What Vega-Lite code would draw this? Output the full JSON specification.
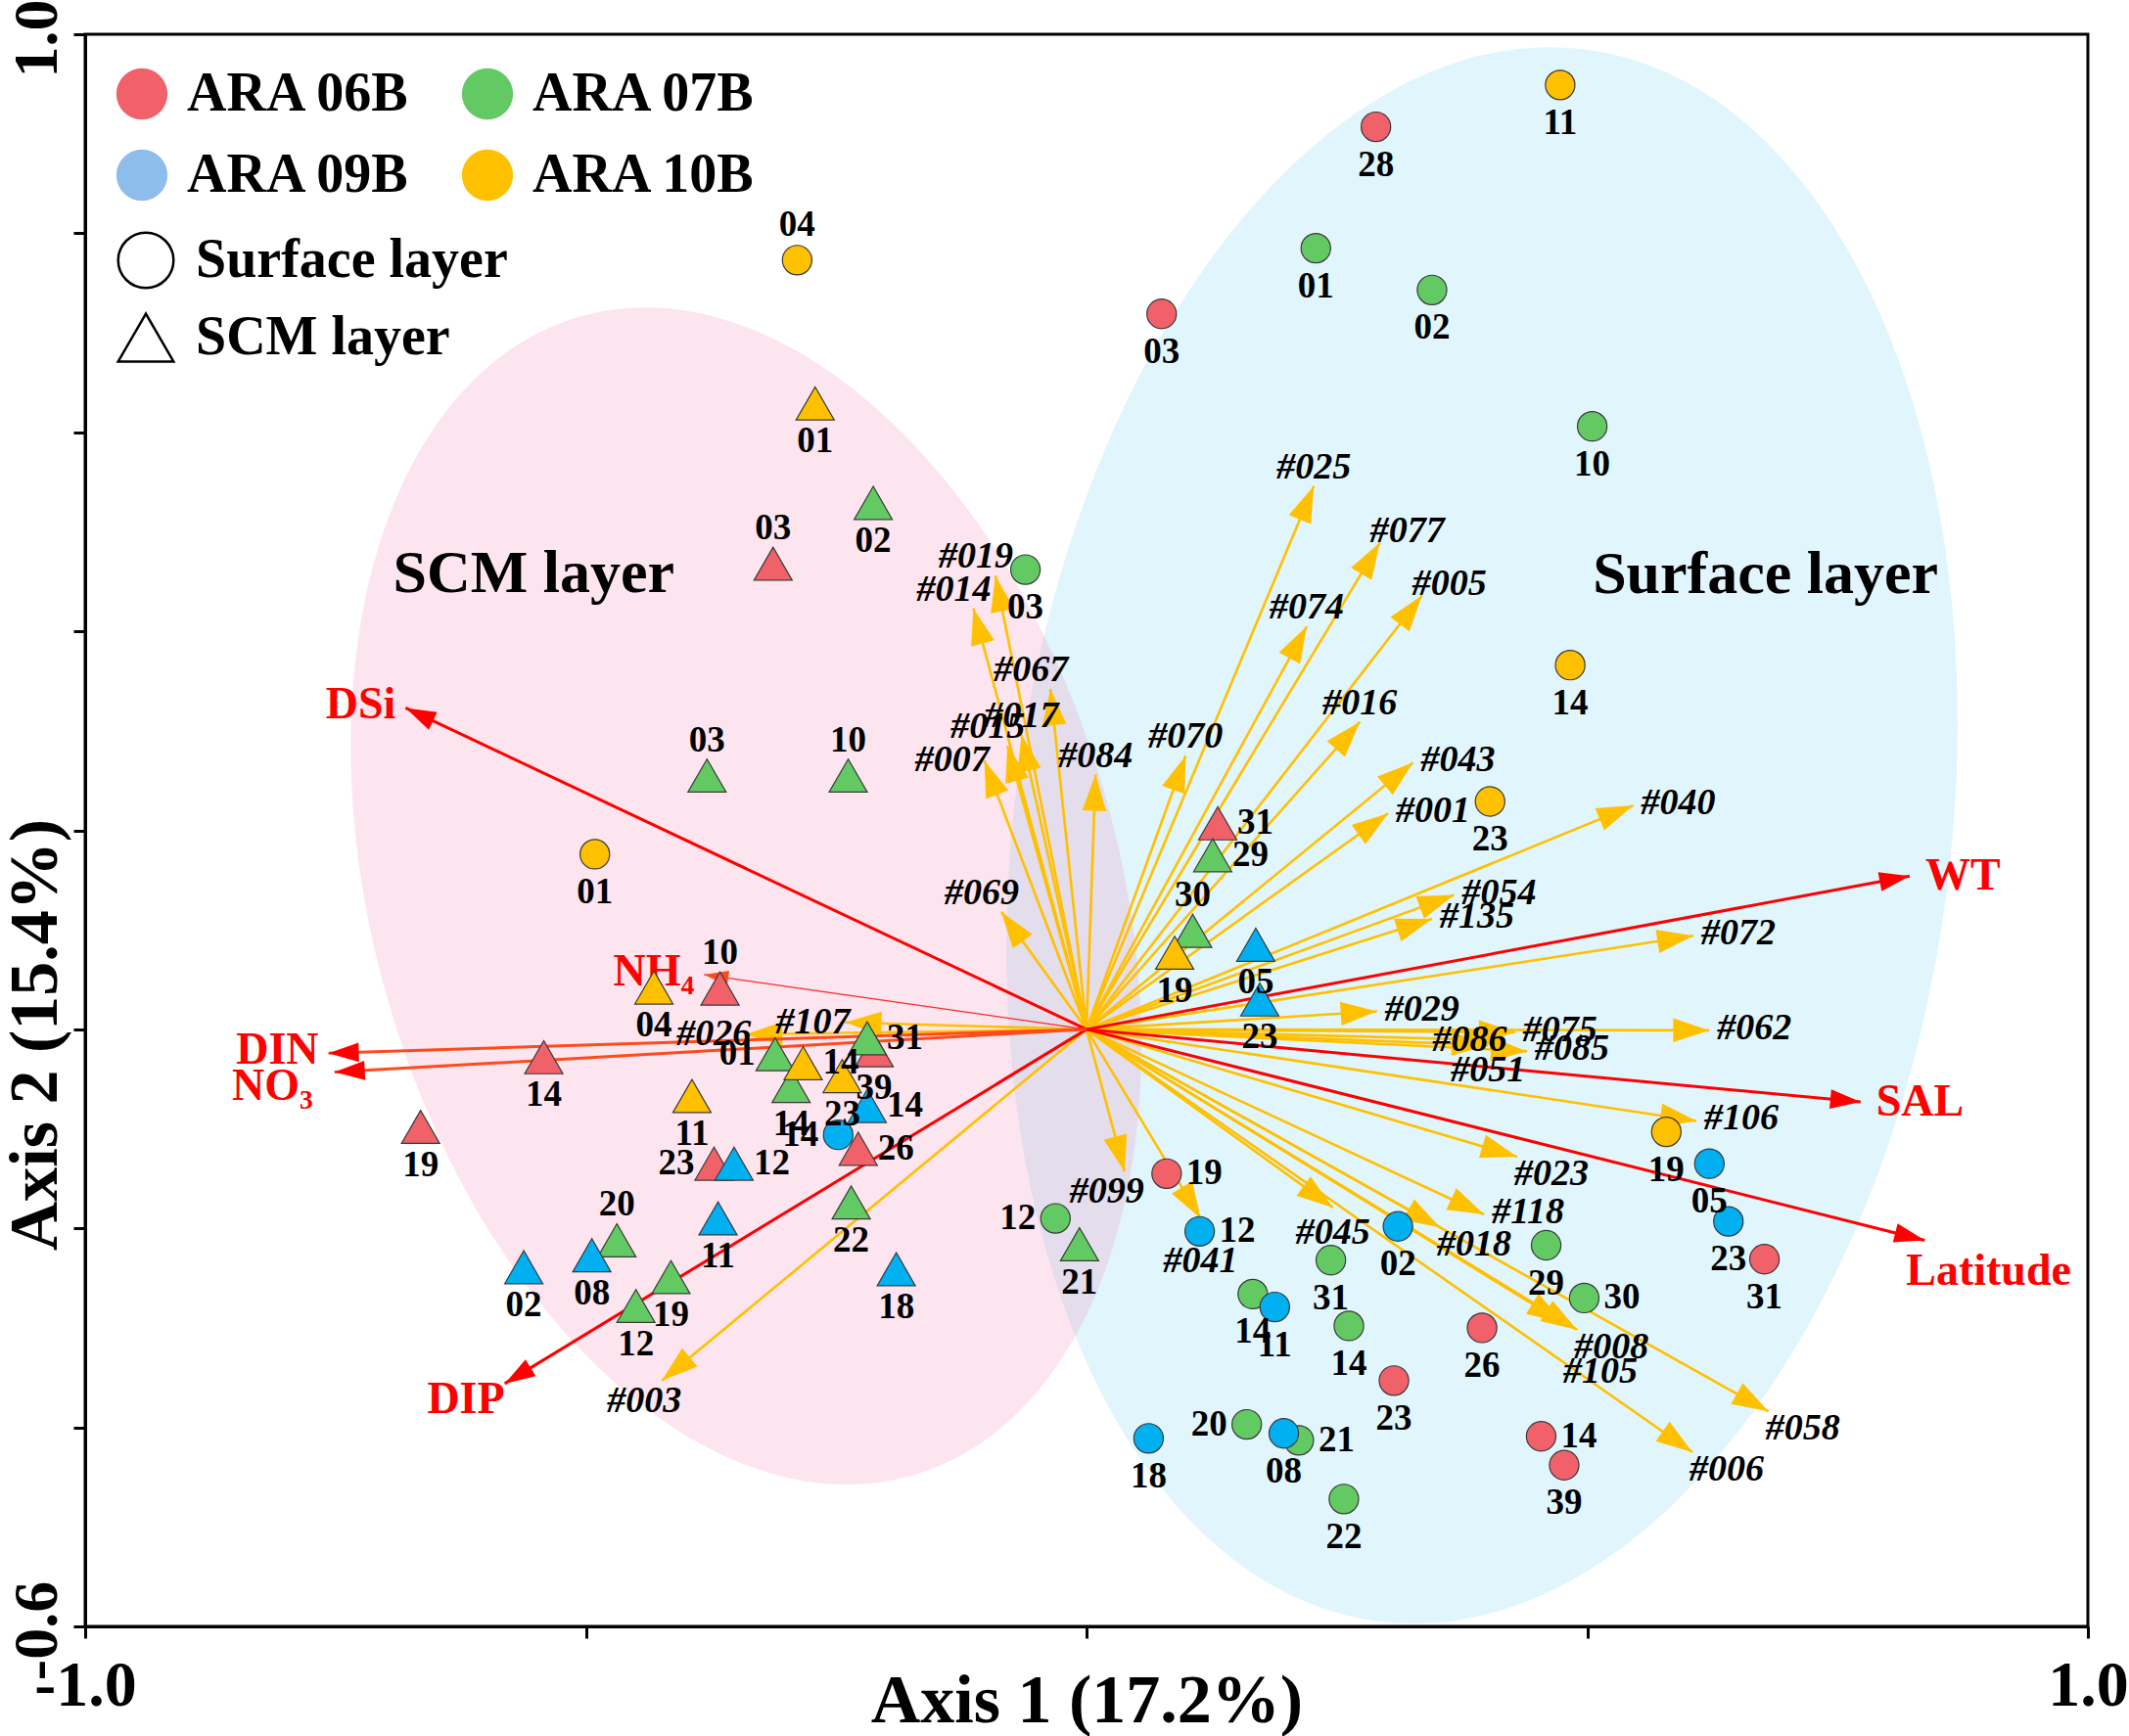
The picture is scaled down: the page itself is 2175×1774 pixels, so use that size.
{
  "$schema": "https://vega.github.io/schema/vega-lite/v6.json",
  "width": 2046,
  "height": 1627,
  "autosize": {"type": "none"},
  "padding": {"left": 87, "top": 35, "right": 42, "bottom": 112},
  "background": "white",
  "config": {
    "view": {"stroke": "black", "strokeWidth": 3},
    "font": "Liberation Serif",
    "text": {"font": "Liberation Serif"}
  },
  "datasets": {
    "groups": [
      {"group": "Surface layer", "x": 0.395, "y": 0.195},
      {"group": "SCM layer", "x": -0.340, "y": 0.134}
    ],
    "annot": [
      {"text": "SCM layer", "x": -0.552, "y": 0.4395},
      {"text": "Surface layer", "x": 0.678, "y": 0.4385}
    ],
    "samples": [
      {"cruise": "ARA 06B", "layer": "Surface layer", "st": "28", "x": 0.289, "y": 0.907, "lp": "b"},
      {"cruise": "ARA 06B", "layer": "Surface layer", "st": "03", "x": 0.075, "y": 0.719, "lp": "b"},
      {"cruise": "ARA 06B", "layer": "Surface layer", "st": "19", "x": 0.080, "y": -0.145, "lp": "r"},
      {"cruise": "ARA 06B", "layer": "Surface layer", "st": "26", "x": 0.395, "y": -0.300, "lp": "b"},
      {"cruise": "ARA 06B", "layer": "Surface layer", "st": "23", "x": 0.307, "y": -0.353, "lp": "b"},
      {"cruise": "ARA 06B", "layer": "Surface layer", "st": "14", "x": 0.454, "y": -0.409, "lp": "r"},
      {"cruise": "ARA 06B", "layer": "Surface layer", "st": "39", "x": 0.477, "y": -0.438, "lp": "b"},
      {"cruise": "ARA 06B", "layer": "Surface layer", "st": "31", "x": 0.677, "y": -0.231, "lp": "b"},
      {"cruise": "ARA 06B", "layer": "SCM layer", "st": "03", "x": -0.313, "y": 0.468, "lp": "a"},
      {"cruise": "ARA 06B", "layer": "SCM layer", "st": "10", "x": -0.366, "y": 0.041, "lp": "a"},
      {"cruise": "ARA 06B", "layer": "SCM layer", "st": "14", "x": -0.542, "y": -0.028, "lp": "b"},
      {"cruise": "ARA 06B", "layer": "SCM layer", "st": "19", "x": -0.665, "y": -0.098, "lp": "b"},
      {"cruise": "ARA 06B", "layer": "SCM layer", "st": "31", "x": 0.131, "y": 0.207, "lp": "r"},
      {"cruise": "ARA 06B", "layer": "SCM layer", "st": "39", "x": -0.212, "y": -0.021, "lp": "b"},
      {"cruise": "ARA 06B", "layer": "SCM layer", "st": "23", "x": -0.372, "y": -0.135, "lp": "l"},
      {"cruise": "ARA 06B", "layer": "SCM layer", "st": "26", "x": -0.228, "y": -0.120, "lp": "r"},
      {"cruise": "ARA 07B", "layer": "Surface layer", "st": "01", "x": 0.229, "y": 0.785, "lp": "b"},
      {"cruise": "ARA 07B", "layer": "Surface layer", "st": "02", "x": 0.345, "y": 0.743, "lp": "b"},
      {"cruise": "ARA 07B", "layer": "Surface layer", "st": "10", "x": 0.505, "y": 0.606, "lp": "b"},
      {"cruise": "ARA 07B", "layer": "Surface layer", "st": "03", "x": -0.061, "y": 0.462, "lp": "b"},
      {"cruise": "ARA 07B", "layer": "Surface layer", "st": "12", "x": -0.031, "y": -0.190, "lp": "l"},
      {"cruise": "ARA 07B", "layer": "Surface layer", "st": "31", "x": 0.244, "y": -0.232, "lp": "b"},
      {"cruise": "ARA 07B", "layer": "Surface layer", "st": "14", "x": 0.166, "y": -0.266, "lp": "b"},
      {"cruise": "ARA 07B", "layer": "Surface layer", "st": "14", "x": 0.262, "y": -0.298, "lp": "b"},
      {"cruise": "ARA 07B", "layer": "Surface layer", "st": "29", "x": 0.459, "y": -0.217, "lp": "b"},
      {"cruise": "ARA 07B", "layer": "Surface layer", "st": "30", "x": 0.497, "y": -0.270, "lp": "r"},
      {"cruise": "ARA 07B", "layer": "Surface layer", "st": "20", "x": 0.160, "y": -0.397, "lp": "l"},
      {"cruise": "ARA 07B", "layer": "Surface layer", "st": "21", "x": 0.212, "y": -0.413, "lp": "r"},
      {"cruise": "ARA 07B", "layer": "Surface layer", "st": "22", "x": 0.257, "y": -0.472, "lp": "b"},
      {"cruise": "ARA 07B", "layer": "SCM layer", "st": "02", "x": -0.213, "y": 0.529, "lp": "b"},
      {"cruise": "ARA 07B", "layer": "SCM layer", "st": "03", "x": -0.379, "y": 0.255, "lp": "a"},
      {"cruise": "ARA 07B", "layer": "SCM layer", "st": "10", "x": -0.238, "y": 0.255, "lp": "a"},
      {"cruise": "ARA 07B", "layer": "SCM layer", "st": "29", "x": 0.126, "y": 0.175, "lp": "r"},
      {"cruise": "ARA 07B", "layer": "SCM layer", "st": "30", "x": 0.106, "y": 0.099, "lp": "a"},
      {"cruise": "ARA 07B", "layer": "SCM layer", "st": "31", "x": -0.219, "y": -0.009, "lp": "r"},
      {"cruise": "ARA 07B", "layer": "SCM layer", "st": "01", "x": -0.311, "y": -0.025, "lp": "l"},
      {"cruise": "ARA 07B", "layer": "SCM layer", "st": "14", "x": -0.295, "y": -0.057, "lp": "b"},
      {"cruise": "ARA 07B", "layer": "SCM layer", "st": "22", "x": -0.235, "y": -0.174, "lp": "b"},
      {"cruise": "ARA 07B", "layer": "SCM layer", "st": "20", "x": -0.469, "y": -0.212, "lp": "a"},
      {"cruise": "ARA 07B", "layer": "SCM layer", "st": "19", "x": -0.415, "y": -0.249, "lp": "b"},
      {"cruise": "ARA 07B", "layer": "SCM layer", "st": "12", "x": -0.450, "y": -0.278, "lp": "b"},
      {"cruise": "ARA 07B", "layer": "SCM layer", "st": "21", "x": -0.007, "y": -0.216, "lp": "b"},
      {"cruise": "ARA 09B", "layer": "Surface layer", "st": "14", "x": -0.248, "y": -0.106, "lp": "l"},
      {"cruise": "ARA 09B", "layer": "Surface layer", "st": "12", "x": 0.113, "y": -0.203, "lp": "r"},
      {"cruise": "ARA 09B", "layer": "Surface layer", "st": "02", "x": 0.311, "y": -0.198, "lp": "b"},
      {"cruise": "ARA 09B", "layer": "Surface layer", "st": "11", "x": 0.188, "y": -0.279, "lp": "b"},
      {"cruise": "ARA 09B", "layer": "Surface layer", "st": "18", "x": 0.062, "y": -0.411, "lp": "b"},
      {"cruise": "ARA 09B", "layer": "Surface layer", "st": "08", "x": 0.197, "y": -0.406, "lp": "b"},
      {"cruise": "ARA 09B", "layer": "Surface layer", "st": "05", "x": 0.622, "y": -0.135, "lp": "b"},
      {"cruise": "ARA 09B", "layer": "Surface layer", "st": "23", "x": 0.641, "y": -0.193, "lp": "b"},
      {"cruise": "ARA 09B", "layer": "SCM layer", "st": "05", "x": 0.169, "y": 0.085, "lp": "b"},
      {"cruise": "ARA 09B", "layer": "SCM layer", "st": "23", "x": 0.173, "y": 0.030, "lp": "b"},
      {"cruise": "ARA 09B", "layer": "SCM layer", "st": "14", "x": -0.219, "y": -0.077, "lp": "r"},
      {"cruise": "ARA 09B", "layer": "SCM layer", "st": "12", "x": -0.352, "y": -0.135, "lp": "r"},
      {"cruise": "ARA 09B", "layer": "SCM layer", "st": "11", "x": -0.368, "y": -0.190, "lp": "b"},
      {"cruise": "ARA 09B", "layer": "SCM layer", "st": "18", "x": -0.190, "y": -0.241, "lp": "b"},
      {"cruise": "ARA 09B", "layer": "SCM layer", "st": "02", "x": -0.562, "y": -0.239, "lp": "b"},
      {"cruise": "ARA 09B", "layer": "SCM layer", "st": "08", "x": -0.494, "y": -0.227, "lp": "b"},
      {"cruise": "ARA 10B", "layer": "Surface layer", "st": "11", "x": 0.473, "y": 0.949, "lp": "b"},
      {"cruise": "ARA 10B", "layer": "Surface layer", "st": "04", "x": -0.289, "y": 0.773, "lp": "a"},
      {"cruise": "ARA 10B", "layer": "Surface layer", "st": "14", "x": 0.483, "y": 0.366, "lp": "b"},
      {"cruise": "ARA 10B", "layer": "Surface layer", "st": "23", "x": 0.403, "y": 0.229, "lp": "b"},
      {"cruise": "ARA 10B", "layer": "Surface layer", "st": "01", "x": -0.491, "y": 0.176, "lp": "b"},
      {"cruise": "ARA 10B", "layer": "Surface layer", "st": "19", "x": 0.579, "y": -0.103, "lp": "b"},
      {"cruise": "ARA 10B", "layer": "SCM layer", "st": "01", "x": -0.271, "y": 0.629, "lp": "b"},
      {"cruise": "ARA 10B", "layer": "SCM layer", "st": "19", "x": 0.088, "y": 0.077, "lp": "b"},
      {"cruise": "ARA 10B", "layer": "SCM layer", "st": "04", "x": -0.432, "y": 0.042, "lp": "b"},
      {"cruise": "ARA 10B", "layer": "SCM layer", "st": "14", "x": -0.283, "y": -0.034, "lp": "r"},
      {"cruise": "ARA 10B", "layer": "SCM layer", "st": "23", "x": -0.244, "y": -0.047, "lp": "b"},
      {"cruise": "ARA 10B", "layer": "SCM layer", "st": "11", "x": -0.394, "y": -0.067, "lp": "b"}
    ],
    "asvs": [
      {"name": "#025", "x": 0.227, "y": 0.546, "lp": "a"},
      {"name": "#077", "x": 0.293, "y": 0.489, "lp": "ar"},
      {"name": "#005", "x": 0.335, "y": 0.436, "lp": "ar"},
      {"name": "#074", "x": 0.220, "y": 0.405, "lp": "a"},
      {"name": "#016", "x": 0.273, "y": 0.309, "lp": "a"},
      {"name": "#043", "x": 0.326, "y": 0.268, "lp": "r"},
      {"name": "#001", "x": 0.301, "y": 0.217, "lp": "r"},
      {"name": "#040", "x": 0.546, "y": 0.225, "lp": "r"},
      {"name": "#054", "x": 0.367, "y": 0.135, "lp": "r"},
      {"name": "#135", "x": 0.345, "y": 0.111, "lp": "r"},
      {"name": "#072", "x": 0.606, "y": 0.094, "lp": "r"},
      {"name": "#029", "x": 0.290, "y": 0.018, "lp": "r"},
      {"name": "#086", "x": 0.415, "y": -0.011, "lp": "l"},
      {"name": "#075", "x": 0.428, "y": -0.003, "lp": "r"},
      {"name": "#062", "x": 0.622, "y": -0.001, "lp": "r"},
      {"name": "#085", "x": 0.440, "y": -0.022, "lp": "r"},
      {"name": "#051", "x": 0.401, "y": -0.016, "lp": "b"},
      {"name": "#106", "x": 0.609, "y": -0.092, "lp": "r"},
      {"name": "#023", "x": 0.430, "y": -0.128, "lp": "br"},
      {"name": "#118", "x": 0.397, "y": -0.186, "lp": "r"},
      {"name": "#018", "x": 0.353, "y": -0.199, "lp": "br"},
      {"name": "#008", "x": 0.490, "y": -0.302, "lp": "br"},
      {"name": "#105", "x": 0.476, "y": -0.295, "lp": "bbr"},
      {"name": "#058", "x": 0.681, "y": -0.384, "lp": "br"},
      {"name": "#006", "x": 0.605, "y": -0.425, "lp": "br"},
      {"name": "#045", "x": 0.246, "y": -0.179, "lp": "b"},
      {"name": "#041", "x": 0.114, "y": -0.190, "lp": "bb"},
      {"name": "#099", "x": 0.038, "y": -0.143, "lp": "bl"},
      {"name": "#003", "x": -0.424, "y": -0.353, "lp": "bl"},
      {"name": "#026", "x": -0.340, "y": -0.005, "lp": "l"},
      {"name": "#107", "x": -0.241, "y": 0.007, "lp": "l"},
      {"name": "#069", "x": -0.085, "y": 0.118, "lp": "al"},
      {"name": "#007", "x": -0.102, "y": 0.270, "lp": "l"},
      {"name": "#015", "x": -0.079, "y": 0.285, "lp": "al"},
      {"name": "#017", "x": -0.065, "y": 0.296, "lp": "a"},
      {"name": "#084", "x": 0.009, "y": 0.256, "lp": "a"},
      {"name": "#067", "x": -0.036, "y": 0.342, "lp": "al"},
      {"name": "#014", "x": -0.113, "y": 0.423, "lp": "al"},
      {"name": "#019", "x": -0.091, "y": 0.456, "lp": "al"},
      {"name": "#070", "x": 0.099, "y": 0.275, "lp": "a"}
    ],
    "env": [
      {"name": "DSi", "x": -0.680, "y": 0.323, "lp": "l"},
      {"name": "NH₄", "x": -0.382, "y": 0.055, "lp": "l"},
      {"name": "DIN", "x": -0.757, "y": -0.024, "lp": "l"},
      {"name": "NO₃", "x": -0.751, "y": -0.043, "lp": "lb"},
      {"name": "DIP", "x": -0.581, "y": -0.356, "lp": "bl"},
      {"name": "WT", "x": 0.822, "y": 0.154, "lp": "r"},
      {"name": "SAL", "x": 0.773, "y": -0.073, "lp": "r"},
      {"name": "Latitude", "x": 0.837, "y": -0.212, "lp": "br"}
    ]
  },
  "encoding": {
    "x": {
      "field": "x", "type": "quantitative",
      "scale": {"domain": [-1, 1], "nice": false, "zero": false},
      "title": "Axis 1 (17.2%)",
      "axis": {
        "values": [-1, -0.5, 0, 0.5, 1],
        "labelExpr": "datum.value <= -0.99 ? '-1.0' : (datum.value >= 0.99 ? '1.0' : '')",
        "grid": false, "domainColor": "black", "domainWidth": 3,
        "tickColor": "black", "tickWidth": 3, "tickSize": 12,
        "labelFont": "Liberation Serif", "labelFontSize": 66, "labelFontWeight": "bold", "labelColor": "black",
        "labelPadding": 16, "labelFlush": false, "labelOverlap": false, "labelBaseline": "top", "labelAlign": "center",
        "titleFont": "Liberation Serif", "titleFontSize": 70, "titleFontWeight": "bold", "titleColor": "black",
        "titleX": 1023, "titleY": 97, "titleAlign": "center", "titleBaseline": "alphabetic"
      }
    },
    "y": {
      "field": "y", "type": "quantitative",
      "scale": {"domain": [-0.6, 1.0], "nice": false, "zero": false},
      "title": "Axis 2 (15.4%)",
      "axis": {
        "values": [-0.6, -0.4, -0.2, 0, 0.2, 0.4, 0.6, 0.8, 1.0],
        "labelExpr": "datum.value >= 0.99 ? '1.0' : (datum.value <= -0.59 ? '-0.6' : '')",
        "grid": false, "domainColor": "black", "domainWidth": 3,
        "tickColor": "black", "tickWidth": 3, "tickSize": 12,
        "labelFont": "Liberation Serif", "labelFontSize": 64, "labelFontWeight": "bold", "labelColor": "black",
        "labelAngle": -90, "labelAlign": "center", "labelBaseline": "bottom", "labelPadding": 5, "labelOffset": 4,
        "labelFlush": false, "labelOverlap": false,
        "titleFont": "Liberation Serif", "titleFontSize": 70, "titleFontWeight": "bold", "titleColor": "black",
        "titleAngle": -90, "titleX": -30, "titleY": 1022, "titleAlign": "center", "titleBaseline": "alphabetic"
      }
    }
  },
  "layer": [
    {
      "data": {"name": "groups"},
      "transform": [{"filter": "datum.group == 'Surface layer'"}],
      "mark": {"type": "point", "shape": "M0.5901,0C0.5901,0.5523 0.3259,1 0,1C-0.3259,1 -0.5901,0.5523 -0.5901,0C-0.5901,-0.5523 -0.3259,-1 0,-1C0.3259,-1 0.5901,-0.5523 0.5901,0Z", "size": 2624400, "angle": 7.6, "filled": true, "fill": "#E1F5FC", "opacity": 1, "strokeWidth": 0}
    },
    {
      "data": {"name": "groups"},
      "transform": [{"filter": "datum.group == 'SCM layer'"}],
      "mark": {"type": "point", "shape": "M0.6185,0C0.6185,0.5523 0.3416,1 0,1C-0.3416,1 -0.6185,0.5523 -0.6185,0C-0.6185,-0.5523 -0.3416,-1 0,-1C0.3416,-1 0.6185,-0.5523 0.6185,0Z", "size": 1517824, "angle": -16, "filled": true, "fill": "#F184B1", "opacity": 0.21, "strokeWidth": 0}
    },
    {
      "data": {"values": [{"line": "axis 2 zero"}]},
      "mark": {"type": "rule", "color": "black", "strokeWidth": 2, "strokeDash": [2, 3]},
      "encoding": {"x": {"datum": 0, "type": "quantitative"}, "y": {"datum": -0.6, "type": "quantitative"}, "y2": {"datum": 1}}
    },
    {
      "data": {"values": [{"line": "axis 1 zero"}]},
      "mark": {"type": "rule", "color": "black", "strokeWidth": 2, "strokeDash": [2, 3]},
      "encoding": {"y": {"datum": 0, "type": "quantitative"}, "x": {"datum": -1, "type": "quantitative"}, "x2": {"datum": 1}}
    },
    {
      "data": {"name": "asvs"},
      "mark": {"type": "rule", "color": "#FFC000", "strokeWidth": 2.6},
      "encoding": {"x2": {"datum": 0}, "y2": {"datum": 0}}
    },
    {
      "data": {"name": "asvs"},
      "mark": {"type": "point", "shape": "M0,0L-0.33,1L0.33,1Z", "size": 5476, "filled": true, "color": "#FFC000", "opacity": 1, "strokeWidth": 0, "angle": {"expr": "atan2(datum.x, datum.y) * 180 / PI"}}
    },
    {
      "data": {"name": "env"},
      "transform": [{"filter": {"field": "name", "oneOf": ["DSi", "DIP", "WT", "SAL", "Latitude"]}}],
      "mark": {"type": "rule", "color": "#FF0000", "strokeWidth": 3},
      "encoding": {"x2": {"datum": 0}, "y2": {"datum": 0}}
    },
    {
      "data": {"name": "env"},
      "transform": [{"filter": {"field": "name", "oneOf": ["DIN", "NO₃"]}}],
      "mark": {"type": "rule", "color": "#FF4A1A", "strokeWidth": 3},
      "encoding": {"x2": {"datum": 0}, "y2": {"datum": 0}}
    },
    {
      "data": {"name": "env"},
      "transform": [{"filter": "datum.name == 'NH₄'"}],
      "mark": {"type": "rule", "color": "#FF2A2A", "strokeWidth": 1.3},
      "encoding": {"x2": {"datum": 0}, "y2": {"datum": 0}}
    },
    {
      "data": {"name": "env"},
      "transform": [{"filter": "datum.name != 'NH₄'"}],
      "mark": {"type": "point", "shape": "M0,0L-0.32,1L0.32,1Z", "size": 3844, "filled": true, "color": "#FF0000", "opacity": 1, "strokeWidth": 0, "angle": {"expr": "atan2(datum.x, datum.y) * 180 / PI"}}
    },
    {
      "data": {"name": "env"},
      "transform": [{"filter": "datum.name == 'NH₄'"}],
      "mark": {"type": "point", "shape": "M0,0L-0.3,1L0.3,1Z", "size": 2500, "filled": true, "color": "#FF4A1A", "opacity": 1, "strokeWidth": 0, "angle": {"expr": "atan2(datum.x, datum.y) * 180 / PI"}}
    },
    {
      "data": {"name": "asvs"}, "transform": [{"filter": "datum.lp == 'a'"}],
      "mark": {"type": "text", "font": "Liberation Serif", "fontSize": 38, "fontStyle": "italic", "fontWeight": "bold", "color": "black", "align": "center", "baseline": "alphabetic", "dy": -8},
      "encoding": {"text": {"field": "name"}}
    },
    {
      "data": {"name": "asvs"}, "transform": [{"filter": "datum.lp == 'ar'"}],
      "mark": {"type": "text", "font": "Liberation Serif", "fontSize": 38, "fontStyle": "italic", "fontWeight": "bold", "color": "black", "align": "left", "baseline": "alphabetic", "dx": -10, "dy": -1},
      "encoding": {"text": {"field": "name"}}
    },
    {
      "data": {"name": "asvs"}, "transform": [{"filter": "datum.lp == 'al'"}],
      "mark": {"type": "text", "font": "Liberation Serif", "fontSize": 38, "fontStyle": "italic", "fontWeight": "bold", "color": "black", "align": "right", "baseline": "alphabetic", "dx": 18, "dy": -8},
      "encoding": {"text": {"field": "name"}}
    },
    {
      "data": {"name": "asvs"}, "transform": [{"filter": "datum.lp == 'r'"}],
      "mark": {"type": "text", "font": "Liberation Serif", "fontSize": 38, "fontStyle": "italic", "fontWeight": "bold", "color": "black", "align": "left", "baseline": "middle", "dx": 8, "dy": -2},
      "encoding": {"text": {"field": "name"}}
    },
    {
      "data": {"name": "asvs"}, "transform": [{"filter": "datum.lp == 'l'"}],
      "mark": {"type": "text", "font": "Liberation Serif", "fontSize": 38, "fontStyle": "italic", "fontWeight": "bold", "color": "black", "align": "right", "baseline": "middle", "dx": 5, "dy": 0},
      "encoding": {"text": {"field": "name"}}
    },
    {
      "data": {"name": "asvs"}, "transform": [{"filter": "datum.lp == 'b'"}],
      "mark": {"type": "text", "font": "Liberation Serif", "fontSize": 38, "fontStyle": "italic", "fontWeight": "bold", "color": "black", "align": "center", "baseline": "top", "dy": 7},
      "encoding": {"text": {"field": "name"}}
    },
    {
      "data": {"name": "asvs"}, "transform": [{"filter": "datum.lp == 'bb'"}],
      "mark": {"type": "text", "font": "Liberation Serif", "fontSize": 38, "fontStyle": "italic", "fontWeight": "bold", "color": "black", "align": "center", "baseline": "top", "dy": 25},
      "encoding": {"text": {"field": "name"}}
    },
    {
      "data": {"name": "asvs"}, "transform": [{"filter": "datum.lp == 'bl'"}],
      "mark": {"type": "text", "font": "Liberation Serif", "fontSize": 38, "fontStyle": "italic", "fontWeight": "bold", "color": "black", "align": "right", "baseline": "top", "dx": 20, "dy": 2},
      "encoding": {"text": {"field": "name"}}
    },
    {
      "data": {"name": "asvs"}, "transform": [{"filter": "datum.lp == 'br'"}],
      "mark": {"type": "text", "font": "Liberation Serif", "fontSize": 38, "fontStyle": "italic", "fontWeight": "bold", "color": "black", "align": "left", "baseline": "top", "dx": -3, "dy": -1},
      "encoding": {"text": {"field": "name"}}
    },
    {
      "data": {"name": "asvs"}, "transform": [{"filter": "datum.lp == 'bbr'"}],
      "mark": {"type": "text", "font": "Liberation Serif", "fontSize": 38, "fontStyle": "italic", "fontWeight": "bold", "color": "black", "align": "left", "baseline": "top", "dx": 0, "dy": 31},
      "encoding": {"text": {"field": "name"}}
    },
    {
      "data": {"name": "env"}, "transform": [{"filter": "datum.lp == 'l'"}],
      "mark": {"type": "text", "font": "Liberation Serif", "fontSize": 46, "fontWeight": "bold", "color": "#FF0000", "align": "right", "baseline": "middle", "dx": -10, "dy": -3},
      "encoding": {"text": {"field": "name"}}
    },
    {
      "data": {"name": "env"}, "transform": [{"filter": "datum.lp == 'lb'"}],
      "mark": {"type": "text", "font": "Liberation Serif", "fontSize": 46, "fontWeight": "bold", "color": "#FF0000", "align": "right", "baseline": "middle", "dx": -22, "dy": 14},
      "encoding": {"text": {"field": "name"}}
    },
    {
      "data": {"name": "env"}, "transform": [{"filter": "datum.lp == 'r'"}],
      "mark": {"type": "text", "font": "Liberation Serif", "fontSize": 46, "fontWeight": "bold", "color": "#FF0000", "align": "left", "baseline": "middle", "dx": 16, "dy": 0},
      "encoding": {"text": {"field": "name"}}
    },
    {
      "data": {"name": "env"}, "transform": [{"filter": "datum.lp == 'bl'"}],
      "mark": {"type": "text", "font": "Liberation Serif", "fontSize": 46, "fontWeight": "bold", "color": "#FF0000", "align": "right", "baseline": "top", "dx": 0, "dy": -6},
      "encoding": {"text": {"field": "name"}}
    },
    {
      "data": {"name": "env"}, "transform": [{"filter": "datum.lp == 'br'"}],
      "mark": {"type": "text", "font": "Liberation Serif", "fontSize": 46, "fontWeight": "bold", "color": "#FF0000", "align": "left", "baseline": "top", "dx": -19, "dy": 10},
      "encoding": {"text": {"field": "name"}}
    },
    {
      "data": {"name": "samples"},
      "transform": [{"filter": "datum.layer == 'Surface layer'"}],
      "mark": {"type": "point", "shape": "circle", "size": 908, "filled": true, "opacity": 1, "stroke": "#3a3a3a", "strokeWidth": 1.2},
      "encoding": {
        "color": {"field": "cruise", "type": "nominal", "scale": {"domain": ["ARA 06B", "ARA 07B", "ARA 09B", "ARA 10B"], "range": ["#F0616A", "#63C963", "#00B0F0", "#FFC000"]}, "legend": null}
      }
    },
    {
      "data": {"name": "samples"},
      "transform": [{"filter": "datum.layer == 'SCM layer'"}],
      "mark": {"type": "point", "shape": "triangle-up", "size": 1521, "filled": true, "opacity": 1, "stroke": "#3a3a3a", "strokeWidth": 1.2},
      "encoding": {
        "color": {"field": "cruise", "type": "nominal", "scale": {"domain": ["ARA 06B", "ARA 07B", "ARA 09B", "ARA 10B"], "range": ["#F0616A", "#63C963", "#00B0F0", "#FFC000"]}, "legend": null}
      }
    },
    {
      "data": {"name": "samples"}, "transform": [{"filter": "datum.lp == 'b'"}],
      "mark": {"type": "text", "font": "Liberation Serif", "fontSize": 37, "fontWeight": "bold", "color": "black", "align": "center", "baseline": "middle", "dy": 39},
      "encoding": {"text": {"field": "st"}}
    },
    {
      "data": {"name": "samples"}, "transform": [{"filter": "datum.lp == 'a'"}],
      "mark": {"type": "text", "font": "Liberation Serif", "fontSize": 37, "fontWeight": "bold", "color": "black", "align": "center", "baseline": "middle", "dy": -36},
      "encoding": {"text": {"field": "st"}}
    },
    {
      "data": {"name": "samples"}, "transform": [{"filter": "datum.lp == 'r'"}],
      "mark": {"type": "text", "font": "Liberation Serif", "fontSize": 37, "fontWeight": "bold", "color": "black", "align": "left", "baseline": "middle", "dx": 20},
      "encoding": {"text": {"field": "st"}}
    },
    {
      "data": {"name": "samples"}, "transform": [{"filter": "datum.lp == 'l'"}],
      "mark": {"type": "text", "font": "Liberation Serif", "fontSize": 37, "fontWeight": "bold", "color": "black", "align": "right", "baseline": "middle", "dx": -20},
      "encoding": {"text": {"field": "st"}}
    },
    {
      "data": {"name": "annot"},
      "mark": {"type": "text", "font": "Liberation Serif", "fontSize": 62, "fontWeight": "bold", "color": "black", "align": "center", "baseline": "alphabetic"},
      "encoding": {"text": {"field": "text"}}
    },
    {
      "data": {"name": "samples"},
      "transform": [{"filter": "false"}],
      "mark": {"type": "point", "shape": "circle", "filled": true, "opacity": 1},
      "encoding": {
        "color": {
          "field": "cruise", "type": "nominal",
          "scale": {"domain": ["ARA 06B", "ARA 07B", "ARA 09B", "ARA 10B"], "range": ["#F0616A", "#63C963", "#8EBDEB", "#FFC000"]},
          "legend": {
            "orient": "none", "legendX": 30, "legendY": 33, "columns": 2, "direction": "horizontal",
            "title": null, "symbolType": "circle", "symbolSize": 2734, "symbolStrokeWidth": 0, "symbolOpacity": 1,
            "labelFont": "Liberation Serif", "labelFontSize": 56, "labelFontWeight": "bold", "labelColor": "black",
            "labelOffset": 18, "columnPadding": 50, "rowPadding": 27, "labelLimit": 0, "padding": 0
          }
        }
      }
    },
    {
      "data": {"name": "samples"},
      "transform": [{"filter": "false"}],
      "mark": {"type": "point", "filled": false, "color": "black", "strokeWidth": 2.5, "opacity": 1},
      "encoding": {
        "shape": {
          "field": "layer", "type": "nominal",
          "scale": {"domain": ["Surface layer", "SCM layer"], "range": ["circle", "triangle-up"]},
          "legend": {
            "orient": "none", "legendX": 32, "legendY": 201, "direction": "vertical",
            "title": null, "symbolSize": 3200, "symbolStrokeWidth": 2.5, "symbolStrokeColor": "black", "symbolFillColor": "transparent", "symbolOpacity": 1,
            "labelFont": "Liberation Serif", "labelFontSize": 56, "labelFontWeight": "bold", "labelColor": "black",
            "labelOffset": 21, "rowPadding": 15, "labelLimit": 0, "padding": 0
          }
        }
      }
    }
  ],
  "resolve": {"scale": {"color": "independent", "shape": "independent"}}
}
